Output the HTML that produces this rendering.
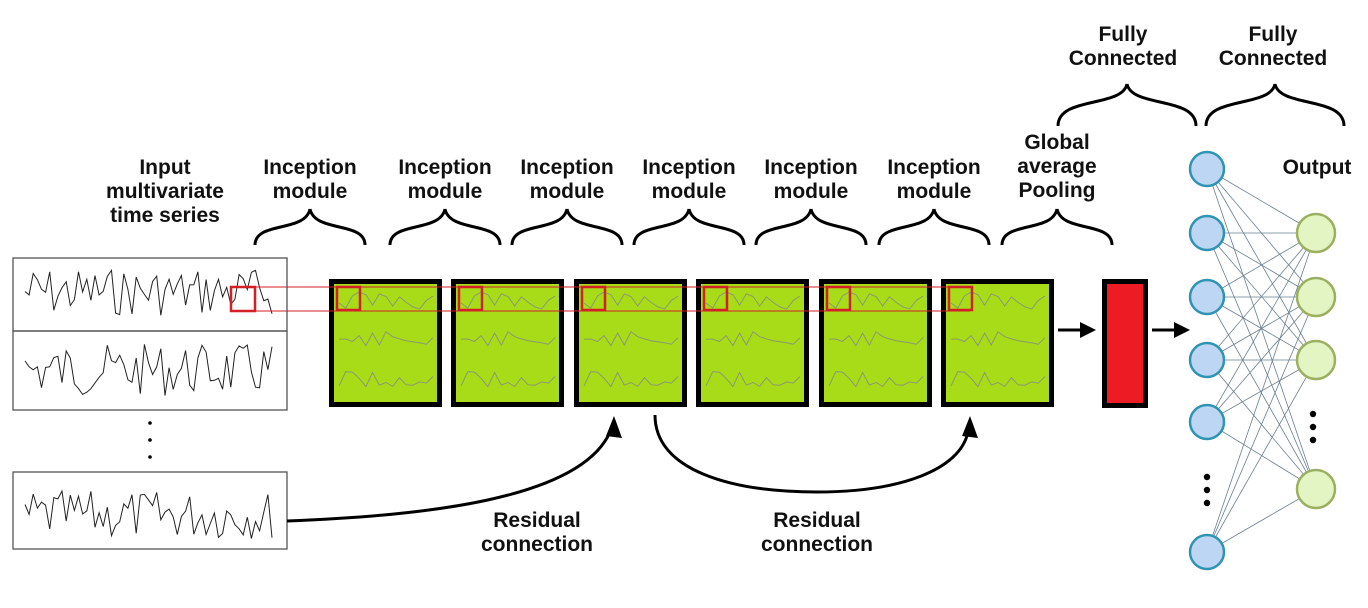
<!DOCTYPE html>
<html><head><meta charset="utf-8"><style>
html,body{margin:0;padding:0;background:#fff;width:1368px;height:608px;overflow:hidden}
svg text{font-family:"Liberation Sans",Arial,sans-serif;font-weight:bold;font-size:21px;fill:#111;text-anchor:middle}
</style></head><body>
<svg id="s" width="1368" height="608" viewBox="0 0 1368 608" xmlns="http://www.w3.org/2000/svg">
<text x="165" y="174">Input</text><text x="165" y="198">multivariate</text><text x="165" y="222">time series</text>
<text x="310" y="174">Inception</text><text x="310" y="198">module</text>
<text x="445" y="174">Inception</text><text x="445" y="198">module</text>
<text x="567" y="174">Inception</text><text x="567" y="198">module</text>
<text x="689" y="174">Inception</text><text x="689" y="198">module</text>
<text x="811" y="174">Inception</text><text x="811" y="198">module</text>
<text x="934" y="174">Inception</text><text x="934" y="198">module</text>
<text x="1057" y="149">Global</text><text x="1057" y="173">average</text><text x="1057" y="197">Pooling</text>
<text x="1123" y="41">Fully</text><text x="1123" y="65">Connected</text>
<text x="1273" y="41">Fully</text><text x="1273" y="65">Connected</text>
<text x="1317" y="174">Output</text>
<text x="537" y="527">Residual</text><text x="537" y="551">connection</text>
<text x="817" y="527">Residual</text><text x="817" y="551">connection</text>
<g id="dyn"></g>
<rect x="13" y="258" width="274" height="73" fill="none" stroke="#555" stroke-width="1.3"/>
<rect x="13" y="331" width="274" height="79" fill="none" stroke="#555" stroke-width="1.3"/>
<rect x="13" y="472" width="274" height="77" fill="none" stroke="#555" stroke-width="1.3"/>
<circle cx="150" cy="423" r="1.8"/><circle cx="150" cy="440" r="1.8"/><circle cx="150" cy="457" r="1.8"/>
<rect x="1104.5" y="281.5" width="41" height="124" fill="#ed1c24" stroke="#000" stroke-width="5"/>
<line x1="1058" y1="330" x2="1082" y2="330" stroke="#000" stroke-width="3"/><path d="M1080,322 L1096,330 L1080,338Z"/>
<line x1="1152" y1="330" x2="1176" y2="330" stroke="#000" stroke-width="3"/><path d="M1174,322 L1190,330 L1174,338Z"/>
<path d="M287,521 C420,516 580,500 610,432" fill="none" stroke="#000" stroke-width="3"/>
<path d="M606,436 L614,416 L622,438Z"/>
<path d="M655,415 C655,470 730,492 817,492 C900,492 960,470 968,432" fill="none" stroke="#000" stroke-width="3"/>
<path d="M962,436 L970,416 L978,438Z"/>
<circle cx="1207" cy="477" r="3.2"/><circle cx="1207" cy="490" r="3.2"/><circle cx="1207" cy="503" r="3.2"/>
<circle cx="1313" cy="414" r="3.2"/><circle cx="1313" cy="427" r="3.2"/><circle cx="1313" cy="440" r="3.2"/>
</svg>
<script>
var NS="http://www.w3.org/2000/svg",g=document.getElementById("dyn");
function el(t,a){var e=document.createElementNS(NS,t);for(var k in a)e.setAttribute(k,a[k]);g.appendChild(e);return e;}
var seed=7;function r(){seed=(seed*9301+49297)%233280;return seed/233280;}
function wig(x0,x1,yc,amp,n,col,w){var d="";for(var i=0;i<=n;i++){var x=x0+(x1-x0)*i/n,y=yc+(r()-0.5)*2*amp;d+=(i?"L":"M")+x.toFixed(1)+","+y.toFixed(1);}el("path",{d:d,fill:"none",stroke:col,"stroke-width":w});}
wig(25,272,292,24,60,"#222",1);wig(25,272,370,26,60,"#222",1);wig(25,272,515,24,60,"#222",1);
function brace(x0,x1,yt,yb){var m=(x0+x1)/2;el("path",{d:"M"+x0+","+yb+" C"+x0+","+(yt+12)+" "+(m-5)+","+(yt+24)+" "+m+","+yt+" M"+x1+","+yb+" C"+x1+","+(yt+12)+" "+(m+5)+","+(yt+24)+" "+m+","+yt,fill:"none",stroke:"#000","stroke-width":3});}
[310,445,567,689,811,934,1057].forEach(function(c){brace(c-55,c+55,209,245);});
brace(1058,1196,84,126);brace(1206,1344,84,126);
[329,451,574,696,819,941].forEach(function(x){
el("rect",{x:x+2.5,y:281.5,width:108,height:123,fill:"#a8dc18",stroke:"#000","stroke-width":5});
seed=11;wig(x+10,x+104,300,10,14,"#8a9a70",1);wig(x+10,x+104,340,9,14,"#8a9a70",1);wig(x+10,x+104,380,9,14,"#8a9a70",1);
el("rect",{x:x+8,y:287,width:23,height:23,fill:"none",stroke:"#d31f26","stroke-width":2.5});
});
el("rect",{x:231,y:287,width:24,height:24,fill:"none",stroke:"#d31f26","stroke-width":2.5});
el("line",{x1:255,y1:287,x2:970,y2:287,stroke:"#d31f26","stroke-width":1});
el("line",{x1:255,y1:311,x2:970,y2:311,stroke:"#d31f26","stroke-width":1});
var ins=[169,233,297,360,422,552],outs=[233,297,360,489];
ins.forEach(function(a){outs.forEach(function(b){el("line",{x1:1207,y1:a,x2:1316,y2:b,stroke:"#6a7f90","stroke-width":0.8});});});
ins.forEach(function(a){el("circle",{cx:1207,cy:a,r:17,fill:"#bcd6f4",stroke:"#2f93b3","stroke-width":2.5});});
outs.forEach(function(b){el("circle",{cx:1316,cy:b,r:19,fill:"#e4f5c4",stroke:"#9cb061","stroke-width":2.5});});
</script>
</body></html>
